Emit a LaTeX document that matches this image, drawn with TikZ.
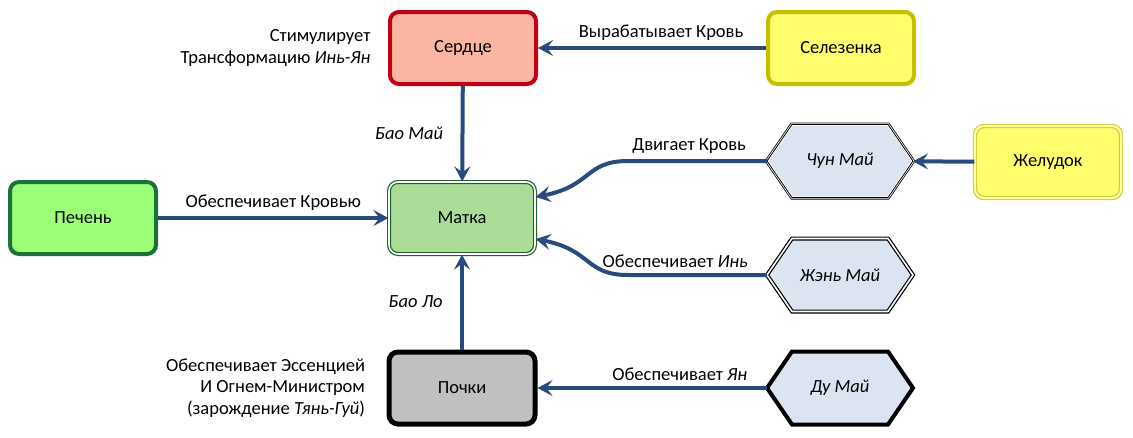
\documentclass[tikz,border=0pt]{standalone}
\usepackage{fontspec}
\setmainfont{Carlito}
\usetikzlibrary{arrows.meta,backgrounds,positioning}

\definecolor{linkblue}{RGB}{40,75,125}
\definecolor{heartred}{RGB}{192,0,20}
\definecolor{heartfill}{RGB}{250,182,162}
\definecolor{spleenline}{RGB}{200,190,0}
\definecolor{spleenfill}{RGB}{255,255,110}
\definecolor{stomline}{RGB}{205,205,60}
\definecolor{liverline}{RGB}{25,115,55}
\definecolor{liverfill}{RGB}{155,255,120}
\definecolor{wombline}{RGB}{30,95,45}
\definecolor{wombfill}{RGB}{170,220,152}
\definecolor{kidfill}{RGB}{192,192,192}
\definecolor{chanfill}{RGB}{220,228,242}

% hexagon round a channel node
\newcommand{\hexchannel}[2]{%
  \draw[fill=chanfill, #2] (#1.west) -- ([xshift=25pt]#1.north west) -- ([xshift=-25pt]#1.north east)
    -- (#1.east) -- ([xshift=-25pt]#1.south east) -- ([xshift=25pt]#1.south west) -- cycle;}

\tikzset{
  organ/.style={rounded corners=9pt, minimum width=146pt, minimum height=72pt, line width=4pt},
  channel/.style={rectangle, minimum width=146pt, minimum height=73pt, outer sep=0pt},
  link/.style={draw=linkblue, line width=4pt, -{Stealth[length=15pt,width=16pt,inset=6pt]}},
}

\begin{document}
\begin{tikzpicture}[x=1pt,y=-1pt,font=\fontsize{18.5}{21.5}\selectfont]
\useasboundingbox (0,0) rectangle (1133,437);

% organs
\node[organ, draw=heartred, fill=heartfill] (serdce) at (463,48) {Сердце};
\node[organ, draw=spleenline, fill=spleenfill] (selez) at (841,48) {Селезенка};
\node[organ, draw=wombline, fill=wombfill, line width=1.2pt, double=white, double distance=1.6pt] (matka) at (462,218) {Матка};
\node[organ, draw=liverline, fill=liverfill] (pechen) at (83,218) {Печень};
\node[organ, draw=stomline, fill=spleenfill, line width=1.2pt, double=spleenfill!60!white, double distance=2pt] (zhel) at (1048,162) {Желудок};
\node[organ, draw=black, fill=kidfill, line width=5pt] (pochki) at (462,388) {Почки};

% channels
\node[channel] (chun) at (840,161) {\textit{Чун Май}};
\node[channel] (zhen) at (840,275) {\textit{Жэнь Май}};
\node[channel] (du) at (840,388) {\textit{Ду Май}};
\begin{scope}[on background layer]
  \hexchannel{chun}{preaction={draw=black, line width=4pt}, draw=white, line width=2.4pt,
    postaction={draw=black, line width=0.8pt}}
  \hexchannel{zhen}{draw=black, line width=1.2pt, double=white, double distance=1.6pt}
  \hexchannel{du}{draw=black, line width=4pt}
\end{scope}

% notes
\node[left=14pt of serdce, align=right] (serdnote) {Стимулирует\\Трансформацию \textit{Инь-Ян}};
\node[left=18pt of pochki, align=right] (pochnote) {Обеспечивает Эссенцией\\И Огнем-Министром\\(зарождение \textit{Тянь-Гуй})};

% links
\draw[link] (selez) -- node[pos=0.46, above=2pt] {Вырабатывает Кровь} (serdce);
\draw[link] (serdce) -- node[midway, left=14pt] {\textit{Бао Май}} (matka);
\draw[link] (pechen) -- node[midway, above=2pt] {Обеспечивает Кровью} (matka);
\draw[link] (pochki) -- node[midway, left=14pt] {\textit{Бао Ло}} (matka);
\draw[link] (du) -- node[pos=0.38, above=2pt] {Обеспечивает \textit{Ян}} (pochki);
\draw[link] (zhel) -- (chun);
\draw[link] (chun.west) -- node[pos=0.56, above=2pt] {Двигает Кровь} (628,161)
  .. controls (585,161) and (592,186) .. ([yshift=21pt]matka.east);
\draw[link] (zhen.west) -- node[pos=0.66, above=2pt] {Обеспечивает \textit{Инь}} (628,275)
  .. controls (585,275) and (592,250) .. ([yshift=-21pt]matka.east);
\end{tikzpicture}
\end{document}
